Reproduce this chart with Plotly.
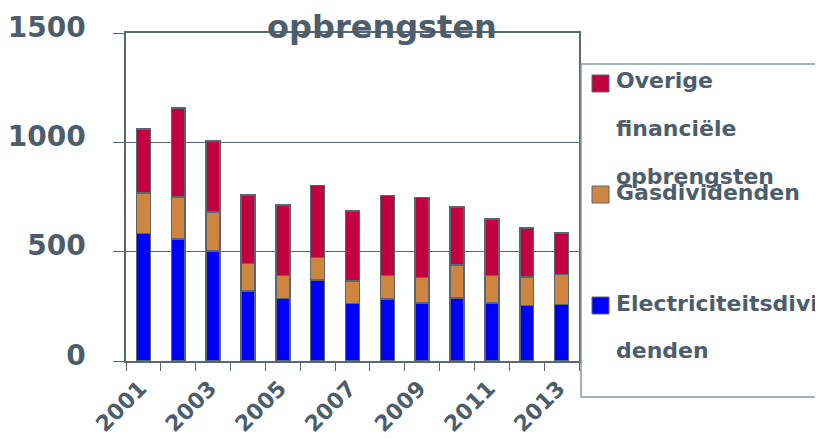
import plotly.graph_objects as go

years = list(range(2001, 2014))
electriciteit = [582, 558, 503, 321, 285, 370, 262, 283, 265, 287, 265, 253, 258]
gas = [186, 193, 178, 124, 107, 104, 104, 109, 118, 153, 127, 131, 137]
overige = [294, 407, 326, 314, 321, 328, 321, 366, 365, 264, 257, 224, 190]

series_names = ["Electriciteitsdividenden", "Gasdividenden", "Overige financiële opbrengsten"]
series_colors = ["#0000FF", "#CD853F", "#C2003F"]
legend_lines = [
    ["Overige", "financiële", "opbrengsten"],
    ["Gasdividenden"],
    ["Electriciteitsdivi", "denden"],
]

TXT = "#4d5d6b"
EDGE = "#5a6670"
FONT = "DejaVu Sans"

# the page body adds an 8px margin, so the figure is laid out 8px up/left
OFF = 8
W, H = 823 - OFF, 439 - OFF
L, R, T, B = 126 - OFF, 579 - OFF, 33 - OFF, 361 - OFF


def px_x(x):
    return (x - OFF - L) / (R - L)


def px_y(y):
    return (B - (y - OFF)) / (B - T)


fig = go.Figure()
for name, vals, col in zip(series_names, [electriciteit, gas, overige], series_colors):
    fig.add_trace(go.Bar(
        x=years, y=vals, name=name, width=0.4,
        marker=dict(color=col, line=dict(color=EDGE, width=1.5)),
    ))

fig.update_layout(
    width=W, height=H,
    barmode="stack",
    showlegend=False,
    plot_bgcolor="white",
    paper_bgcolor="white",
    margin=dict(l=L, r=W - R, t=T, b=H - B, autoexpand=False),
    font=dict(family=FONT, color=TXT),
    title=dict(
        text="opbrengsten", x=px_x(382), xref="paper", xanchor="center",
        y=1 - (27 - OFF) / H, yref="container", yanchor="middle",
        font=dict(size=32, family=FONT, weight="bold", color=TXT),
    ),
)

fig.update_yaxes(
    range=[0, 1500], tickvals=[0, 500, 1000, 1500],
    showgrid=True, gridcolor=EDGE, gridwidth=1,
    showline=True, linecolor=EDGE, linewidth=1.5, mirror=True,
    ticks="outside", ticklen=11, tickcolor=EDGE,
    ticklabelstandoff=22, ticklabelshift=-6,
    tickfont=dict(size=28, family=FONT, weight="bold", color=TXT),
    zeroline=False, automargin=False,
)
fig.update_xaxes(
    range=[2000.5, 2013.5],
    tickvals=years[::2], ticktext=[str(y) for y in years[::2]],
    tickangle=-45, ticks="", ticklabelstandoff=4, ticklabelshift=-3,
    showgrid=False, zeroline=False,
    showline=True, linecolor=EDGE, linewidth=1.5, mirror=True,
    tickfont=dict(size=22, family=FONT, weight="bold", color=TXT),
    minor=dict(ticks="outside", tickmode="linear", tick0=2000.5, dtick=1,
               ticklen=8, tickcolor=EDGE, showgrid=False),
    automargin=False,
)

# legend drawn by hand (wrapped labels with wide line spacing)
fig.add_shape(type="rect", xref="paper", yref="paper",
              x0=px_x(581), x1=px_x(840), y0=px_y(397), y1=px_y(64),
              line=dict(color="#8a98a4", width=1.5), fillcolor="rgba(0,0,0,0)")

square_tops = [75, 186, 297]
line_centers = [[80, 128, 176], [192], [303, 350]]
legend_colors = [series_colors[2], series_colors[1], series_colors[0]]
for top, col, lines, centers in zip(square_tops, legend_colors, legend_lines, line_centers):
    fig.add_shape(type="rect", xref="paper", yref="paper",
                  x0=px_x(592), x1=px_x(609), y0=px_y(top + 17), y1=px_y(top),
                  fillcolor=col, line=dict(color=EDGE, width=1))
    for txt, cy in zip(lines, centers):
        fig.add_annotation(
            text=txt, xref="paper", yref="paper",
            x=px_x(614), y=px_y(cy), xanchor="left", yanchor="middle",
            showarrow=False,
            font=dict(size=22, family=FONT, weight="bold", color=TXT),
        )

fig.write_html("out.html")
